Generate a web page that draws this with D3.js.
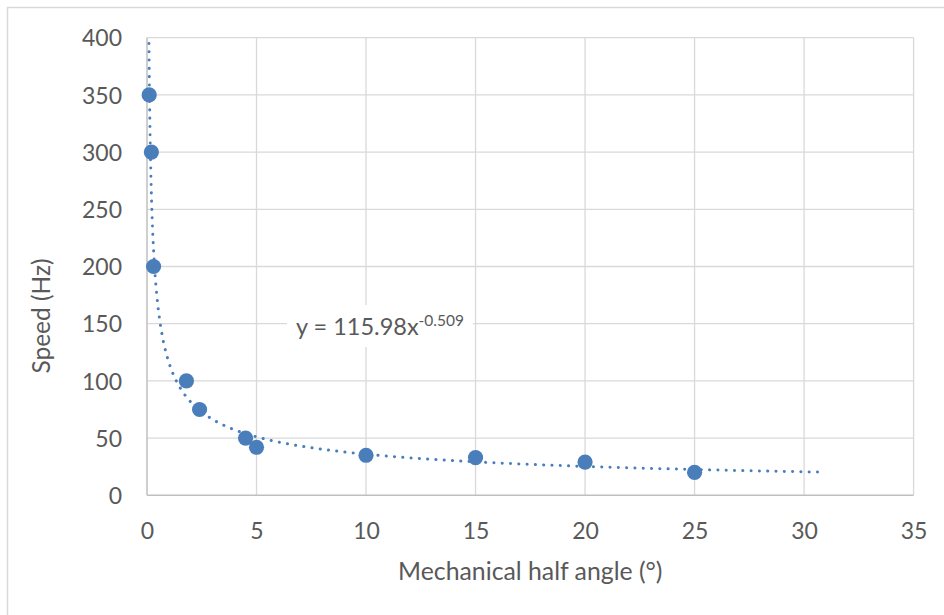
<!DOCTYPE html>
<html>
<head>
<meta charset="utf-8">
<script src="https://cdn.jsdelivr.net/npm/d3@7"></script>
<style>
  html, body { margin: 0; padding: 0; background: #fff; }
  svg { display: block; }
  text { font-family: Lato, "Open Sans", "Liberation Sans", sans-serif; fill: #595959; }
</style>
</head>
<body>
<svg id="chart" width="944" height="615"></svg>
<script>
// Measured speed against mechanical half angle
const angles = [0.1, 0.2, 0.3, 1.8, 2.4, 4.5, 5, 10, 15, 20, 25];
const speeds = [350, 300, 200, 100, 75, 50, 42, 35, 33, 29, 20];

// Power-law fit shown on the chart: y = a * x^b
const fitA = 115.98;
const fitB = -0.509;
const fitRange = [0.05, 30.7];

const xTicks = [0, 5, 10, 15, 20, 25, 30, 35];
const yTicks = [0, 50, 100, 150, 200, 250, 300, 350, 400];

const xTitle = "Mechanical half angle (°)";
const yTitle = "Speed (Hz)";

const W = 944, H = 615;
const plot = { left: 147, top: 37.7, right: 913.6, bottom: 495.3 };
const blue = "#4A7EBB";

const svg = d3.select("#chart");

// chart frame
svg.append("rect")
  .attr("x", 7.5).attr("y", 7.5)
  .attr("width", W + 20).attr("height", H + 20)
  .attr("fill", "#fff").attr("stroke", "#D9D9D9").attr("stroke-width", 1.5);

const x = d3.scaleLinear().domain([0, 35]).range([plot.left, plot.right]);
const y = d3.scaleLinear().domain([0, 400]).range([plot.bottom, plot.top]);

// gridlines
const grid = svg.append("g");
grid.selectAll("line.gx").data(xTicks.slice(1)).join("line")
  .attr("x1", d => x(d)).attr("x2", d => x(d))
  .attr("y1", plot.top).attr("y2", plot.bottom)
  .attr("stroke", "#D9D9D9").attr("stroke-width", 1.3);
grid.selectAll("line.gy").data(yTicks.slice(1)).join("line")
  .attr("x1", plot.left).attr("x2", plot.right)
  .attr("y1", d => y(d)).attr("y2", d => y(d))
  .attr("stroke", "#D9D9D9").attr("stroke-width", 1.3);

// axes lines
svg.append("line")
  .attr("x1", plot.left).attr("x2", plot.right)
  .attr("y1", plot.bottom).attr("y2", plot.bottom)
  .attr("stroke", "#BFBFBF").attr("stroke-width", 1.5);
svg.append("line")
  .attr("x1", plot.left).attr("x2", plot.left)
  .attr("y1", plot.top).attr("y2", plot.bottom)
  .attr("stroke", "#BFBFBF").attr("stroke-width", 1.5);

// tick labels via d3 axes (lines hidden)
const xAxis = svg.append("g")
  .attr("transform", `translate(0,${plot.bottom})`)
  .call(d3.axisBottom(x).tickValues(xTicks).tickSize(0).tickPadding(0));
xAxis.select(".domain").remove();
xAxis.selectAll("text")
  .attr("y", 44).attr("dy", null)
  .style("font-size", "23px").attr("fill", "#595959");

const yAxis = svg.append("g")
  .attr("transform", `translate(${plot.left},0)`)
  .call(d3.axisLeft(y).tickValues(yTicks).tickSize(0).tickPadding(0));
yAxis.select(".domain").remove();
yAxis.selectAll("text")
  .attr("x", -25).attr("dy", "0.36em")
  .style("font-size", "23px").attr("fill", "#595959");

// clip for trend line
svg.append("clipPath").attr("id", "plotClip")
  .append("rect")
  .attr("x", plot.left).attr("y", plot.top)
  .attr("width", plot.right - plot.left).attr("height", plot.bottom - plot.top);

// trend line sampled on a log-spaced grid
const logX = d3.scaleLog().domain(fitRange);
const trend = d3.range(0, 601).map(i => {
  const xv = logX.invert(i / 600);
  return [xv, fitA * Math.pow(xv, fitB)];
});
svg.append("path")
  .datum(trend)
  .attr("clip-path", "url(#plotClip)")
  .attr("fill", "none")
  .attr("stroke", blue)
  .attr("stroke-width", 3)
  .attr("stroke-linecap", "round")
  .attr("stroke-dasharray", "0.1 8.2")
  .attr("d", d3.line().x(d => x(d[0])).y(d => y(Math.min(d[1], 460))));

// data markers
svg.append("g").selectAll("circle")
  .data(angles.map((a, i) => [a, speeds[i]]))
  .join("circle")
  .attr("cx", d => x(d[0])).attr("cy", d => y(d[1]))
  .attr("r", 7.6).attr("fill", blue);

// equation label
const eq = svg.append("g");
eq.append("rect")
  .attr("x", 287).attr("y", 305).attr("width", 186).attr("height", 42)
  .attr("fill", "#fff");
const eqText = eq.append("text")
  .attr("x", 296).attr("y", 335)
  .style("font-size", "23.5px");
eqText.append("tspan").text(`y = ${fitA}x`);
eqText.append("tspan").attr("dy", -9).style("font-size", "15.5px").text(`${fitB}`);

// axis titles
svg.append("text")
  .attr("x", (plot.left + plot.right) / 2).attr("y", 580)
  .attr("text-anchor", "middle")
  .style("font-size", "24.8px")
  .text(xTitle);
svg.append("text")
  .attr("transform", "translate(50,316) rotate(-90)")
  .attr("text-anchor", "middle")
  .style("font-size", "24.5px")
  .text(yTitle);
</script>
</body>
</html>
